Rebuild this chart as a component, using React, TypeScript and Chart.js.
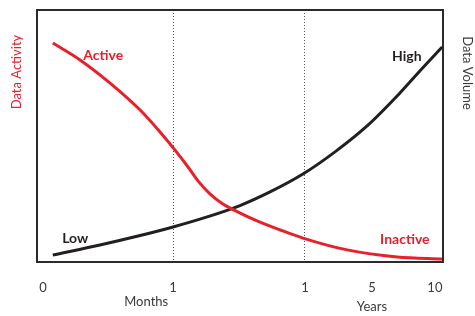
import React, { useEffect, useRef } from "react";
import { Chart, registerables } from "chart.js";

Chart.register(...registerables);

// Time position along the x axis (0–100 arbitrary units)
const activeX = [3.9, 10.6, 18.0, 25.4, 30.3, 34.0, 37.2, 39.7, 42.6, 45.6, 48.8, 54.2, 59.9, 65.5, 76.4, 88.7, 100];
const activeY = [86.9, 80.2, 71.0, 60.3, 51.6, 44.4, 37.7, 32.1, 27.0, 23.2, 20.4, 16.3, 12.7, 9.5, 4.8, 2.0, 1.2];

const volumeX = [3.9, 15.5, 25.4, 33.5, 41.9, 50.0, 57.4, 65.5, 73.4, 81.3, 89.4, 94.3, 99.8];
const volumeY = [2.8, 6.75, 10.5, 13.9, 17.9, 22.4, 27.8, 34.9, 43.7, 54.0, 67.1, 75.8, 85.3];

const tickValues = [1.5, 33.5, 66.0, 82.5, 98.0];
const tickLabels = ["0", "1", "1", "5", "10"];
const dividerTicks = [1, 2]; // indices of ticks that carry a dotted divider

const curveLabels = [
  { text: "Active", x: 16.3, y: 82.1, color: "#e8202a" },
  { text: "High", x: 91.1, y: 81.7, color: "#231f20" },
  { text: "Low", x: 9.4, y: 9.5, color: "#231f20" },
  { text: "Inactive", x: 90.6, y: 9.1, color: "#e8202a" },
];

const RED = "#e8202a";
const BLACK = "#231f20";
const FONT = "Lato, 'Open Sans', sans-serif";

export default function App() {
  const ref = useRef<HTMLCanvasElement | null>(null);

  useEffect(() => {
    if (!ref.current) return;

    const decor = {
      id: "decor",
      afterDatasetsDraw(chart: any) {
        const { ctx, chartArea, scales } = chart;
        const xs = scales.x;
        const ys = scales.y;
        ctx.save();
        // plot frame
        ctx.strokeStyle = "#2b2b2b";
        ctx.lineWidth = 2;
        ctx.strokeRect(chartArea.left, chartArea.top, chartArea.right - chartArea.left, chartArea.bottom - chartArea.top);

        // curve labels
        ctx.font = `bold 14px ${FONT}`;
        ctx.textAlign = "center";
        ctx.textBaseline = "middle";
        for (const l of curveLabels) {
          ctx.fillStyle = l.color;
          ctx.fillText(l.text, xs.getPixelForValue(l.x), ys.getPixelForValue(l.y));
        }

        // axis labels
        ctx.font = `13px ${FONT}`;
        ctx.fillStyle = "#3a3a3a";
        ctx.fillText("Months", xs.getPixelForValue(26.9), chartArea.bottom + 40);
        ctx.fillText("Years", xs.getPixelForValue(82.5), chartArea.bottom + 45);

        ctx.save();
        ctx.translate(17, chartArea.top + 62);
        ctx.rotate(-Math.PI / 2);
        ctx.fillStyle = RED;
        ctx.fillText("Data Activity", 0, 0);
        ctx.restore();

        ctx.save();
        ctx.translate(467, chartArea.top + 63);
        ctx.rotate(Math.PI / 2);
        ctx.fillStyle = "#3a3a3a";
        ctx.fillText("Data Volume", 0, 0);
        ctx.restore();

        ctx.restore();
      },
    };

    const chart = new Chart(ref.current, {
      type: "line",
      data: {
        datasets: [
          {
            label: "Data Activity",
            data: activeX.map((x, i) => ({ x, y: activeY[i] })),
            borderColor: RED,
            borderWidth: 3,
            pointRadius: 0,
            cubicInterpolationMode: "monotone",
            yAxisID: "y",
          },
          {
            label: "Data Volume",
            data: volumeX.map((x, i) => ({ x, y: volumeY[i] })),
            borderColor: BLACK,
            borderWidth: 3,
            pointRadius: 0,
            cubicInterpolationMode: "monotone",
            yAxisID: "y1",
          },
        ],
      },
      options: {
        animation: false,
        responsive: true,
        maintainAspectRatio: false,
        layout: { padding: { left: 37, right: 32, top: 10, bottom: 0 } },
        plugins: { legend: { display: false }, tooltip: { enabled: false } },
        scales: {
          x: {
            type: "linear",
            min: 0,
            max: 100,
            afterBuildTicks: (scale: any) => {
              scale.ticks = tickValues.map((v) => ({ value: v }));
            },
            afterFit: (scale: any) => {
              scale.height = 54;
            },
            ticks: {
              autoSkip: false,
              maxRotation: 0,
              padding: 18,
              color: "#3a3a3a",
              font: { family: FONT, size: 13 },
              callback: (_v: any, i: number) => tickLabels[i],
            },
            grid: {
              drawTicks: false,
              lineWidth: 1,
              color: (ctx: any) => (dividerTicks.includes(ctx.index) ? "#555555" : "rgba(0,0,0,0)"),
            },
            border: { display: false, dash: [1, 2] },
          },
          y: { type: "linear", min: 0, max: 100, display: false },
          y1: { type: "linear", min: 0, max: 100, display: false, position: "right" },
        },
      },
      plugins: [decor],
    });

    return () => chart.destroy();
  }, []);

  return (
    <div style={{ position: "fixed", left: 0, top: 0, width: 475, height: 316, background: "#fff" }}>
      <canvas ref={ref} />
    </div>
  );
}
